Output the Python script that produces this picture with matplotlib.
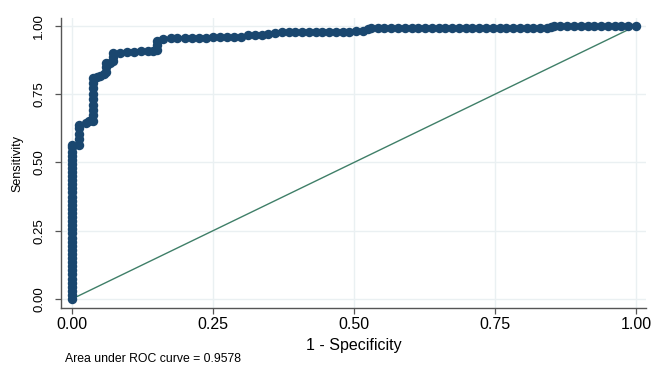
import matplotlib
matplotlib.use("Agg")
import matplotlib.pyplot as plt

plt.rcParams['font.family'] = ['Liberation Sans', 'DejaVu Sans']

# ROC curve points (1 - specificity, sensitivity)
fpr = [0.000, 0.000, 0.000, 0.000, 0.000, 0.000, 0.000, 0.000, 0.000, 0.000,
       0.000, 0.000, 0.000, 0.000, 0.000, 0.000, 0.000, 0.000, 0.000, 0.000,
       0.000, 0.000, 0.000, 0.000, 0.000, 0.000, 0.000, 0.000, 0.000, 0.000,
       0.000, 0.000, 0.000, 0.000, 0.000, 0.000, 0.000, 0.000, 0.000,
       0.012, 0.012, 0.012, 0.012, 0.012,
       0.024, 0.031, 0.037, 0.037, 0.037, 0.037, 0.037, 0.037, 0.037, 0.037, 0.037,
       0.044, 0.050, 0.057, 0.061, 0.061, 0.061,
       0.067, 0.073, 0.073, 0.073,
       0.085, 0.097, 0.110, 0.122, 0.134, 0.144, 0.150, 0.150, 0.150,
       0.162, 0.175, 0.187, 0.200, 0.212, 0.225, 0.237, 0.250, 0.262, 0.275,
       0.287, 0.300, 0.312, 0.324, 0.336, 0.348, 0.360, 0.372, 0.384, 0.396,
       0.408, 0.420, 0.432, 0.444, 0.456, 0.468, 0.480, 0.492, 0.504, 0.516,
       0.524, 0.530,
       0.542, 0.554, 0.566, 0.578, 0.590, 0.602, 0.614, 0.626, 0.638, 0.650,
       0.662, 0.674, 0.686, 0.698, 0.710, 0.722, 0.734, 0.746, 0.758, 0.770,
       0.782, 0.794, 0.806, 0.818, 0.830, 0.842, 0.850, 0.854,
       0.866, 0.878, 0.890, 0.902, 0.914, 0.926, 0.938, 0.950, 0.962, 0.974,
       0.986, 1.000]
tpr = [0.000, 0.015, 0.030, 0.045, 0.060, 0.075, 0.090, 0.105, 0.120, 0.135,
       0.150, 0.165, 0.180, 0.195, 0.210, 0.225, 0.240, 0.255, 0.270, 0.285,
       0.300, 0.315, 0.330, 0.345, 0.360, 0.375, 0.390, 0.405, 0.420, 0.435,
       0.450, 0.465, 0.480, 0.495, 0.510, 0.525, 0.540, 0.555, 0.565,
       0.565, 0.585, 0.605, 0.625, 0.637,
       0.643, 0.650, 0.653, 0.672, 0.692, 0.712, 0.732, 0.752, 0.772, 0.792, 0.810,
       0.812, 0.818, 0.824, 0.830, 0.848, 0.865,
       0.866, 0.870, 0.885, 0.900,
       0.902, 0.905, 0.906, 0.907, 0.908, 0.909, 0.912, 0.930, 0.946,
       0.952, 0.954, 0.955, 0.956, 0.957, 0.957, 0.957, 0.958, 0.958, 0.958,
       0.959, 0.961, 0.965, 0.966, 0.968, 0.972, 0.975, 0.976, 0.976, 0.977,
       0.977, 0.979, 0.979, 0.979, 0.979, 0.979, 0.979, 0.979, 0.980, 0.982,
       0.988, 0.993,
       0.993, 0.993, 0.993, 0.993, 0.993, 0.993, 0.993, 0.993, 0.993, 0.993,
       0.993, 0.993, 0.993, 0.993, 0.993, 0.993, 0.993, 0.993, 0.993, 0.993,
       0.993, 0.993, 0.993, 0.993, 0.993, 0.993, 0.995, 0.998,
       0.998, 0.998, 0.998, 0.998, 0.999, 0.999, 0.999, 0.999, 1.000, 1.000,
       1.000, 1.000]

ref_line = [0.0, 1.0]
ticks = [0.00, 0.25, 0.50, 0.75, 1.00]
tick_labels = ["0.00", "0.25", "0.50", "0.75", "1.00"]
auc_text = "Area under ROC curve = 0.9578"

fig = plt.figure(figsize=(6.52, 3.66), dpi=100)
ax = fig.add_axes([61/652, (366-308)/366, (646-61)/652, (308-18)/366])

ax.set_xlim(-0.0195, 1.0177)
ax.set_ylim(-0.033, 1.029)

ax.set_xticks(ticks)
ax.set_yticks(ticks)
ax.set_xticklabels(tick_labels, fontsize=11.5)
ax.set_yticklabels(tick_labels, fontsize=9.5, rotation=90, va='center')
ax.grid(True, color='#eaf0f2', linewidth=1.0)
ax.set_axisbelow(True)

for s in ['top', 'right']:
    ax.spines[s].set_visible(False)
for s in ['left', 'bottom']:
    ax.spines[s].set_color('#555555')
    ax.spines[s].set_linewidth(1.0)
ax.tick_params(axis='both', direction='out', length=4.5, width=0.9, color='#555555')
ax.tick_params(axis='x', pad=2)
ax.tick_params(axis='y', pad=7)

ax.plot(ref_line, ref_line, color='#3f7f68', linewidth=1.0, zorder=2)
ax.plot(fpr, tpr, color='#1a476f', linewidth=3.0, marker='o', markersize=6.8,
        markeredgewidth=0, markerfacecolor='#1a476f', zorder=3,
        clip_on=False)

ax.set_xlabel("1 - Specificity", fontsize=11.5, labelpad=4)
ax.set_ylabel("Sensitivity", fontsize=9, labelpad=7)
fig.text(65/652, 1 - 359/366, auc_text, fontsize=8.8, ha='left', va='center')

fig.savefig("out.png", dpi=100)
